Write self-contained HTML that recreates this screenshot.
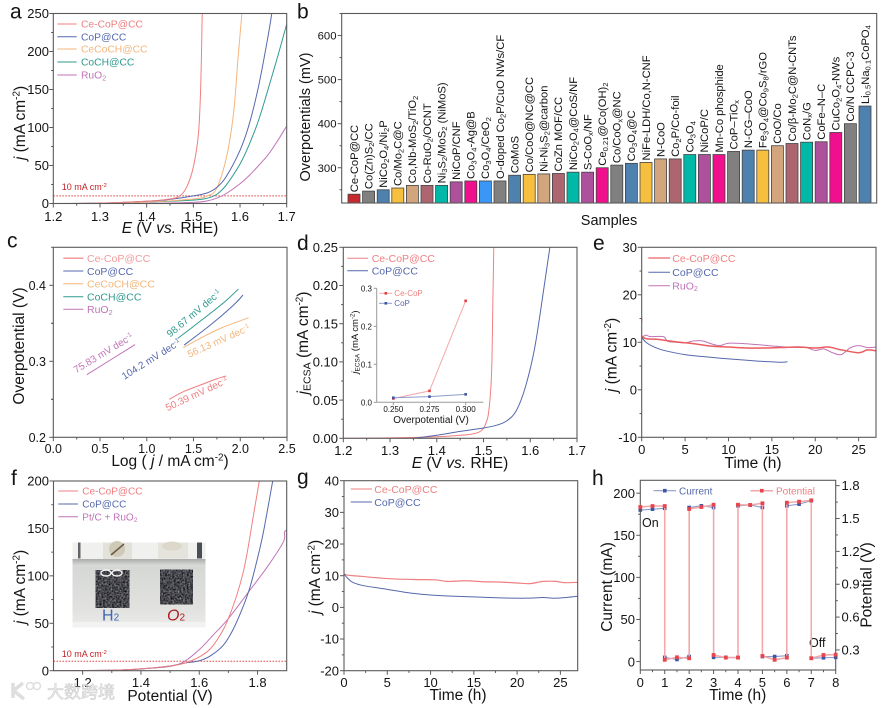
<!DOCTYPE html>
<html lang="en">
<head>
<meta charset="utf-8">
<title>Electrocatalysis composite figure</title>
<style>
html,body{margin:0;padding:0;background:#fff;width:886px;height:708px;overflow:hidden}
svg{display:block;filter:blur(0.3px)}
text{font-family:"Liberation Sans","Noto Sans CJK SC",sans-serif;fill:#141414}
</style>
</head>
<body>
<svg id="figure" xmlns="http://www.w3.org/2000/svg" width="886" height="708" viewBox="0 0 886 708">
<defs>
<filter id="cloth" x="0" y="0" width="100%" height="100%" color-interpolation-filters="sRGB">
<feTurbulence type="fractalNoise" baseFrequency="0.55" numOctaves="2" seed="4"/>
<feColorMatrix values="0.75 0 0 0 -0.1 0.75 0 0 0 -0.1 0.78 0 0 0 -0.09 0 0 0 0 1"/>
<feComposite in2="SourceGraphic" operator="in"/>
</filter>
<linearGradient id="glass" x1="0" y1="0" x2="0" y2="1">
<stop offset="0" stop-color="#e2e3e1"/><stop offset="0.3" stop-color="#d6d8d6"/><stop offset="0.8" stop-color="#e2e3e1"/><stop offset="1" stop-color="#ececea"/>
</linearGradient>
<linearGradient id="surface" x1="0" y1="0" x2="0" y2="1">
<stop offset="0" stop-color="#a9acab"/><stop offset="1" stop-color="#d6d8d6"/>
</linearGradient>
</defs>
<rect width="886" height="708" fill="#fff"/>
<g id="layer"></g>
<g id="photo-inset">
<rect x="72.5" y="542.5" width="133" height="85" fill="url(#glass)"/>
<rect x="72.5" y="542.5" width="133" height="17" fill="#f0f0ee"/>
<rect x="78" y="542.5" width="2.5" height="16" fill="#62656a"/>
<rect x="197" y="542.5" width="5" height="16" fill="#4c4f52"/>
<rect x="103" y="542.5" width="29" height="18" fill="#e2e1da"/>
<rect x="158" y="542.5" width="30" height="16" fill="#e4e3dc"/>
<circle cx="117" cy="549" r="8" fill="#cfcab8"/>
<line x1="111" y1="555" x2="124" y2="544" stroke="#6b5a40" stroke-width="1.5"/>
<ellipse cx="172" cy="546" rx="10" ry="4.5" fill="#dcd8ca"/>
<rect x="72.5" y="559" width="133" height="6" fill="url(#surface)"/>
<rect x="95.5" y="570" width="34" height="38" fill="#000" filter="url(#cloth)"/>
<rect x="160" y="569.5" width="33" height="35" fill="#000" filter="url(#cloth)"/>
<ellipse cx="106" cy="573" rx="5" ry="3" fill="none" stroke="#f2f2f2" stroke-width="1.4"/>
<ellipse cx="117" cy="573" rx="5" ry="3" fill="none" stroke="#f2f2f2" stroke-width="1.4"/>
<rect x="72.5" y="622" width="133" height="5.5" fill="#f2f2f0"/>
<text x="102" y="620.5" font-size="16" style="fill:#3d68b4">H<tspan font-size="10">2</tspan></text>
<text x="167" y="620.5" font-size="16" font-style="italic" style="fill:#a81c20">O<tspan font-size="10" font-style="normal">2</tspan></text>
</g>
<g id="watermark" opacity="0.85">
<path d="M13 683 L13 698 M13 691 L23 683 M14 691 L24 699" stroke="#d9d9d9" stroke-width="3.5" fill="none"/>
<circle cx="30" cy="686" r="3.5" fill="none" stroke="#d9d9d9" stroke-width="1.5"/>
<circle cx="37" cy="686" r="3.5" fill="none" stroke="#d9d9d9" stroke-width="1.5"/>
<text x="47" y="698" font-size="17" style="fill:#eeeeee;stroke:#c4c4c4;stroke-width:0.6">大数跨境</text>
</g>
</svg>
<script>
/* ---------- panel a data ---------- */
const aXTicks=[1.2,1.3,1.4,1.5,1.6,1.7];
const aYTicks=[0,50,100,150,200,250];
const aCeCoPx=[1.2,1.3,1.4,1.45,1.471,1.486,1.5,1.511,1.516,1.519];
const aCeCoPy=[0,0.5,3,6,10,22,48,92,158,250];
const aCoPx=[1.2,1.3,1.4,1.45,1.5,1.53,1.55,1.57,1.6,1.62,1.64,1.66,1.668];
const aCoPy=[0,0.5,3,5.5,10,14,21,35,70,105,155,220,250];
const aCeCoCHx=[1.2,1.3,1.4,1.5,1.53,1.55,1.571,1.586,1.596,1.604];
const aCeCoCHy=[0,0.3,2,6,10,20,61,118,193,250];
const aCoCHx=[1.2,1.3,1.4,1.5,1.53,1.55,1.57,1.6,1.62,1.64,1.66,1.68,1.7];
const aCoCHy=[0,0.3,2,4.5,7,12,24,52,78,110,150,192,236];
const aRuO2x=[1.2,1.4,1.5,1.53,1.55,1.57,1.6,1.62,1.64,1.66,1.68,1.7];
const aRuO2y=[0,0.3,1.5,3.5,7,13,26,37,50,64,82,102];
/* ---------- panel b data ---------- */
const bSamples=["Ce-CoP@CC","Co(Zn)S_{2}/CC","NiCo_{2}O_{4}/Ni_{2}P","Co/Mo_{2}C@C","Co,Nb-MoS_{2}/TiO_{2}","Co-RuO_{2}/OCNT","Ni_{3}S_{2}/MoS_{2} (NiMoS)","NiCoP/CNF","Co_{3}O_{4}-Ag@B","Co_{3}O_{4}/CeO_{2}","O-doped Co_{2}P/CuO NWs/CF","CoMoS","Co/CoO@NC@CC","Ni-Ni_{3}S_{2}@carbon","CoZn MOF/CC","NiCo_{2}O_{4}@CoS/NF","S-CoO_{x}/NF","Ce_{0.21}@Co(OH)_{2}","Co/CoO_{x}@NC","Co_{3}O_{4}@C","NiFe-LDH/Co,N-CNF","N-CoO","Co_{2}P/Co-foil","Co_{3}O_{4}","NiCoP/C","Mn-Co phosphide","CoP–TiO_{x}","N-CG–CoO","Fe_{3}O_{4}@Co_{9}S_{8}/rGO","CoO/Co","Co/β-Mo_{2}C@N-CNTs","CoN_{x}/G","CoFe–N–C","CuCo_{2}O_{4}-NWs","Co/N CCPC-3","Li_{0.5}Na_{0.1}CoPO_{4}"];
const bOverpotentials=[240,247,250,254,260,260,260,268,270,270,270,283,285,286,287,290,290,300,306,310,312,320,320,330,330,330,337,340,340,350,355,358,359,380,400,440];
const bYTicks=[300,400,500,600];
/* ---------- panel c data ---------- */
const cXTicks=[0,0.5,1,1.5,2,2.5];
const cYTicks=[0.2,0.3,0.4];
const cCeCoPx=[1.24,1.4,1.6,1.75,1.85];
const cCeCoPy=[0.25,0.2605,0.27,0.277,0.2807];
const cCoPx=[1.4,1.6,1.8,1.95,2.03];
const cCoPy=[0.3214,0.34,0.36,0.3765,0.3873];
const cCeCoCHx=[1.39,1.6,1.8,2.09];
const cCeCoCHy=[0.318,0.332,0.344,0.3574];
const cCoCHx=[1.33,1.5,1.7,1.85,1.98];
const cCoCHy=[0.33,0.346,0.365,0.38,0.395];
const cRuO2x=[0.358,0.875];
const cRuO2y=[0.2824,0.322];
/* ---------- panel d data ---------- */
const dXTicks=[1.2,1.3,1.4,1.5,1.6,1.7];
const dYTicks=[0,0.05,0.1,0.15,0.2,0.25];
const dCeCoPx=[1.2,1.3,1.4,1.45,1.47,1.49,1.5,1.505,1.51,1.515,1.518,1.52,1.522];
const dCeCoPy=[0,0.0005,0.002,0.004,0.005,0.008,0.013,0.02,0.03,0.06,0.1,0.18,0.25];
const dCoPx=[1.35,1.4,1.45,1.5,1.53,1.55,1.57,1.59,1.61,1.63,1.642];
const dCoPy=[0,0.004,0.009,0.0135,0.0175,0.023,0.036,0.068,0.12,0.2,0.25];
const insetOverpotential=[0.25,0.275,0.3];
const insetCeCoP=[0.01,0.03,0.267];
const insetCoP=[0.012,0.015,0.021];
const insetYTicks=[0,0.1,0.2,0.3];
/* ---------- panel e data ---------- */
const eXTicks=[0,5,10,15,20,25];
const eYTicks=[-10,0,10,20,30];
const eCeCoPt=[0,0.05,2,4,6,8,10,12,14,16,18,20,21.5,23,25,26,27];
const eCeCoPj=[15,11.2,10.6,10.1,9.7,9.2,9,8.8,8.8,8.9,9,8.8,9,8.4,7.8,8.4,8.2];
const eRuO2t=[0,0.5,1,2.5,3,4,5,6,7,8,9,10,12,14,16,18,19,20,21,22,23,24,25,26,27];
const eRuO2j=[11,11.5,11.2,11.2,10.2,10,9.9,10.3,10.3,9.7,9.3,9.8,9.7,9.4,9.1,8.9,8.9,8.3,8.6,7.8,7.4,8.8,9.3,8.9,9];
const eCoPt=[0,0.5,1,2,3,5,7,10,13,16,16.8];
const eCoPj=[11,10,9.4,8.6,8.1,7.4,7,6.5,6.1,5.8,5.9];
/* ---------- panel f data ---------- */
const fXTicks=[1.2,1.4,1.6,1.8];
const fYTicks=[0,50,100,150,200];
const fCeCoPx=[1.1,1.3,1.4,1.5,1.55,1.603,1.649,1.7,1.751,1.786,1.806];
const fCeCoPy=[0,0.5,2,5,8,15,27,55,104,164,200];
const fCoPx=[1.1,1.3,1.4,1.5,1.55,1.6,1.64,1.683,1.717,1.751,1.774,1.797,1.82,1.852];
const fCoPy=[0,0.5,1.8,5,8,10.5,16,27,44,68,88,115,146,200];
const fPtx=[1.1,1.3,1.4,1.5,1.55,1.603,1.649,1.7,1.774,1.837,1.889,1.892,1.9];
const fPty=[0,0.5,2,4.5,10,23,38,55,85,111,136,146,148];
/* ---------- panel g data ---------- */
const gXTicks=[0,5,10,15,20,25];
const gYTicks=[-20,-10,0,10,20,30,40];
const gCeCoPt=[0,0.05,2,5,8,10.5,12,14,16,18,20,21.5,23,24.5,25.5,27];
const gCeCoPj=[13,10.5,9.8,9.1,8.8,8.7,8.2,8.4,8.1,8,7.7,7.5,8.2,8.2,7.8,7.9];
const gCoPt=[0,0.5,1,2,3.5,5,6.5,8,10,12,15,18,21,23,24.5,27];
const gCoPj=[10.5,9,7.9,7,6.3,5.7,5,4.4,3.9,3.6,3.3,3,2.9,3.1,2.9,3.5];
/* ---------- panel h data ---------- */
const hTime=[0,0.5,1,1,1.5,2,2,2.5,3,3,3.5,4,4,4.5,5,5,5.5,6,6,6.5,7,7,7.5,8];
const hCurrent=[180,181,182,5,2.5,6,183,185,183,5,5,5,185,186,183,6,6,7,185,187,191,4,4.5,5];
const hPotential=[1.605,1.614,1.614,0.21,0.233,0.224,1.587,1.605,1.626,0.254,0.23,0.23,1.626,1.623,1.639,0.245,0.21,0.23,1.645,1.654,1.666,0.224,0.254,0.257];
const hXTicks=[0,1,2,3,4,5,6,7,8];
const hYTicks=[0,50,100,150,200];
const hRightTicks=[0.3,0.6,0.9,1.2,1.5,1.8];

/* ---------- style constants ---------- */
const RED='#ef7f80',BLUE='#5568ad',ORANGE='#f4b67c',TEAL='#2f9a8e',PURPLE='#c074b8',AXIS='#5a5a5a';
const NS='http://www.w3.org/2000/svg';
const layer=document.getElementById('layer');

function make(tag,attrs,parent,name,interactable){
  const e=document.createElementNS(NS,tag);
  for(const k in attrs){e.setAttribute(k,attrs[k]);}
  
  
  (parent||layer).appendChild(e);
  return e;
}
/* markup: _{sub}  ^{sup}  *italic* */
function label(parent,name,str,x,y,size,opts){
  opts=opts||{};
  const attrs={x:x,y:y,'font-size':size};
  if(opts.anchor){attrs['text-anchor']=opts.anchor;}
  if(opts.rotate!==undefined){attrs.transform='rotate('+opts.rotate+' '+x+' '+y+')';}
  const t=make('text',attrs,parent,name,false);
  if(opts.fill){t.style.fill=opts.fill;}
  const parts=str.split(/(_\{[^}]*\}|\^\{[^}]*\}|\*[^*]*\*)/).filter(function(s){return s!=='';});
  let offset=0;
  parts.forEach(function(p){
    const s=document.createElementNS(NS,'tspan');
    let target=0,txt=p;
    if(p[0]==='_'&&p[1]==='{'){target=size*0.16;txt=p.slice(2,-1);s.setAttribute('font-size',size*0.68);}
    else if(p[0]==='^'&&p[1]==='{'){target=-size*0.36;txt=p.slice(2,-1);s.setAttribute('font-size',size*0.64);}
    else if(p[0]==='*'){txt=p.slice(1,-1);s.setAttribute('font-style','italic');}
    s.setAttribute('dy',target-offset);
    offset=target;
    s.textContent=txt;
    t.appendChild(s);
  });
  return t;
}
function panel(name,box,xd,yd){
  const g=make('g',{},layer,name,false);
  const p={name:name,box:box,g:g};
  p.x=function(v){return box.l+(v-xd[0])/(xd[1]-xd[0])*(box.r-box.l);};
  p.y=function(v){return box.b-(v-yd[0])/(yd[1]-yd[0])*(box.b-box.t);};
  const clip=make('clipPath',{id:'clip-'+name},g,name+'-clip',false);
  make('rect',{x:box.l,y:box.t,width:box.r-box.l,height:box.b-box.t},clip,name+'-clip-rect',false);
  return p;
}
function frame(p){
  const b=p.box;
  make('rect',{x:b.l,y:b.t,width:b.r-b.l,height:b.b-b.t,fill:'none',stroke:AXIS,'stroke-width':1.1},p.g,p.name+'-frame',false);
}
function midpoints(t){const m=[];for(let i=0;i<t.length-1;i++){m.push((t[i]+t[i+1])/2);}return m;}
function tick(p,name,x1,y1,x2,y2,color){
  make('line',{x1:x1,y1:y1,x2:x2,y2:y2,stroke:color||AXIS,'stroke-width':1},p.g,name,false);
}
function xAxis(p,ticks,dec,size,baseline,color){
  const b=p.box;
  ticks.forEach(function(v){
    tick(p,p.name+'-x-tick',p.x(v),b.b,p.x(v),b.b+4,color);
    label(p.g,p.name+'-x-tick-label',v.toFixed(dec),p.x(v),baseline,size,{anchor:'middle'});
  });
  midpoints(ticks).forEach(function(v){tick(p,p.name+'-x-minor-tick',p.x(v),b.b,p.x(v),b.b+2.2,color);});
}
function yAxis(p,ticks,dec,size,rightEdge,extra,color){
  const b=p.box;
  ticks.forEach(function(v){
    tick(p,p.name+'-y-tick',b.l,p.y(v),b.l-4,p.y(v),color);
    label(p.g,p.name+'-y-tick-label',v.toFixed(dec),rightEdge,p.y(v)+size*0.36,size,{anchor:'end'});
  });
  midpoints(ticks).concat(extra||[]).forEach(function(v){tick(p,p.name+'-y-minor-tick',b.l,p.y(v),b.l-2.2,p.y(v),color);});
}
function smoothPath(xs,ys,p){
  const pts=xs.map(function(v,i){return [p.x(v),p.y(ys[i])];});
  let d='M'+pts[0][0].toFixed(2)+' '+pts[0][1].toFixed(2);
  for(let i=0;i<pts.length-1;i++){
    const a=pts[Math.max(i-1,0)],b=pts[i],c=pts[i+1],e=pts[Math.min(i+2,pts.length-1)];
    d+=' C'+(b[0]+(c[0]-a[0])/6).toFixed(2)+' '+(b[1]+(c[1]-a[1])/6).toFixed(2)+' '+(c[0]-(e[0]-b[0])/6).toFixed(2)+' '+(c[1]-(e[1]-b[1])/6).toFixed(2)+' '+c[0].toFixed(2)+' '+c[1].toFixed(2);
  }
  return d;
}
function curve(p,name,xs,ys,color,width){
  return make('path',{d:smoothPath(xs,ys,p),fill:'none',stroke:color,'stroke-width':width||1,'clip-path':'url(#clip-'+p.name+')'},p.g,name,false);
}
function polyline(p,name,xs,ys,color,width){
  const pts=xs.map(function(v,i){return p.x(v).toFixed(2)+','+p.y(ys[i]).toFixed(2);}).join(' ');
  return make('polyline',{points:pts,fill:'none',stroke:color,'stroke-width':width||1},p.g,name,false);
}
function squares(p,name,xs,ys,color,s){
  xs.forEach(function(v,i){
    make('rect',{x:p.x(v)-s/2,y:p.y(ys[i])-s/2,width:s,height:s,fill:color},p.g,name,false);
  });
}
function legend(p,entries,x1,x2,xt,ys,size,width){
  entries.forEach(function(en,i){
    make('line',{x1:x1,y1:ys[i],x2:x2,y2:ys[i],stroke:en[1],'stroke-width':(en[2]||width||1)},p.g,p.name+'-legend-line',false);
    label(p.g,p.name+'-legend-entry',en[0],xt,ys[i]+size*0.36,size,{fill:en[1]});
  });
}
function refLine(p,x0,x1,y,textX,textY){
  make('line',{x1:p.x(x0),y1:p.y(y),x2:p.x(x1),y2:p.y(y),stroke:'#e04848','stroke-width':1,'stroke-dasharray':'1.6 1.4'},p.g,p.name+'-10ma-reference-line',false);
  label(p.g,p.name+'-10ma-label','10 mA cm^{-2}',textX,textY,9,{fill:'#c42024'});
}
function panelLetter(ch,x,y){ label(layer,'panel-letter-'+ch,ch,x,y,21); }

/* ---------- a ---------- */
(function(){
  panelLetter('a',10,18.5);
  const p=panel('panel-a',{l:53.3,r:286.7,t:13.5,b:203.5},[1.2,1.7],[0,250]);
  refLine(p,1.2,1.7,10,61.7,190);
  curve(p,'ruo2-curve',aRuO2x,aRuO2y,PURPLE);
  curve(p,'cocch-curve',aCoCHx,aCoCHy,TEAL);
  curve(p,'cecoch-curve',aCeCoCHx,aCeCoCHy,ORANGE);
  curve(p,'cop-curve',aCoPx,aCoPy,BLUE);
  curve(p,'ce-cop-curve',aCeCoPx,aCeCoPy,RED);
  frame(p);
  xAxis(p,aXTicks,1,13,221);
  yAxis(p,aYTicks,0,13,49);
  legend(p,[['Ce-CoP@CC',RED],['CoP@CC',BLUE],['CeCoCH@CC',ORANGE],['CoCH@CC',TEAL],['RuO_{2}',PURPLE]],57.3,76.7,81,[24,36.7,49,62,75],10.3);
  label(p.g,'panel-a-y-title','*j* (mA cm^{-2})',25,123,15.5,{anchor:'middle',rotate:-90});
  label(p.g,'panel-a-x-title','*E* (V *vs.* RHE)',170,233,15.5,{anchor:'middle'});
})();
/* ---------- b ---------- */
(function(){
  panelLetter('b',297,18.5);
  const RED_BAR='#c62a2c',BRIGHT='#3a97f5';
  const cycle=['#808080','#4e81ae','#f7bf3e','#d3a57c','#ad6670','#00b8a8','#ae519c','#f00f8c'];
  function barColor(i){ if(i===0){return RED_BAR;} if(i===9){return BRIGHT;} return cycle[(i<9?i-1:i-2)%8]; }
  const p=panel('panel-b',{l:341.7,r:876.7,t:13.5,b:203},[0,1],[220,650]);
  const step=14.6,first=354;
  function bandX(i){return first+i*step;}
  bOverpotentials.forEach(function(v,i){
    make('rect',{x:bandX(i)-6,y:p.y(v),width:12,height:p.box.b-p.y(v),fill:barColor(i),stroke:'#444','stroke-width':0.8},p.g,'bar-'+(i+1),false);
    label(p.g,'bar-label-'+(i+1),bSamples[i],bandX(i)+3.8,p.y(v)-2,11.2,{rotate:-90});
  });
  frame(p);
  yAxis(p,bYTicks,0,11.3,336.5,[250,650]);
  label(p.g,'panel-b-y-title','Overpotentials (mV)',310,117,14.5,{anchor:'middle',rotate:-90});
  label(p.g,'panel-b-x-title','Samples',609,225,14.5,{anchor:'middle'});
})();
/* ---------- c ---------- */
(function(){
  panelLetter('c',7,247.5);
  const p=panel('panel-c',{l:53.3,r:287,t:247.3,b:437.3},[0,2.5],[0.2,0.45]);
  curve(p,'ce-cop-tafel',cCeCoPx,cCeCoPy,RED,1);
  curve(p,'cop-tafel',cCoPx,cCoPy,BLUE);
  curve(p,'cecoch-tafel',cCeCoCHx,cCeCoCHy,ORANGE);
  curve(p,'coch-tafel',cCoCHx,cCoCHy,TEAL);
  curve(p,'ruo2-tafel',cRuO2x,cRuO2y,PURPLE);
  frame(p);
  xAxis(p,cXTicks,1,12.5,453);
  yAxis(p,cYTicks,1,12.5,46,[0.25,0.35,0.45]);
  legend(p,[['Ce-CoP@CC','#f29a9a',1.5],['CoP@CC',BLUE],['CeCoCH@CC',ORANGE],['CoCH@CC',TEAL],['RuO_{2}',PURPLE]],63.3,83.3,87,[258.3,271,283.7,296.7,309.3],10.5);
  label(p.g,'tafel-slope-ce-cop','50.39 mV dec^{-1}',198,397,10,{anchor:'middle',rotate:-25,fill:RED});
  label(p.g,'tafel-slope-cecoch','56.13 mV dec^{-1}',220,344,10,{anchor:'middle',rotate:-24,fill:ORANGE});
  label(p.g,'tafel-slope-cop','104.2 mV dec^{-1}',153,362,10,{anchor:'middle',rotate:-32,fill:BLUE});
  label(p.g,'tafel-slope-coch','98.67 mV dec^{-1}',196,316,10,{anchor:'middle',rotate:-40,fill:TEAL});
  label(p.g,'tafel-slope-ruo2','75.83 mV dec^{-1}',105,356,10,{anchor:'middle',rotate:-31,fill:PURPLE});
  label(p.g,'panel-c-y-title','Overpotential (V)',24,346,15.5,{anchor:'middle',rotate:-90});
  label(p.g,'panel-c-x-title','Log ( *j* / mA cm^{-2})',170,466,15.5,{anchor:'middle'});
})();
/* ---------- d ---------- */
(function(){
  panelLetter('d',297,250);
  const p=panel('panel-d',{l:343.3,r:577,t:247.3,b:438.3},[1.2,1.7],[0,0.25]);
  curve(p,'ce-cop-ecsa-curve',dCeCoPx,dCeCoPy,RED);
  curve(p,'cop-ecsa-curve',dCoPx,dCoPy,BLUE);
  frame(p);
  xAxis(p,dXTicks,1,13,455);
  yAxis(p,dYTicks,2,13,338);
  legend(p,[['Ce-CoP@CC',RED],['CoP@CC',BLUE]],347.3,368,371.7,[258.3,270.7],10.5);
  label(p.g,'panel-d-y-title','*j*_{ECSA} (mA cm^{-2})',308,343,15.5,{anchor:'middle',rotate:-90});
  label(p.g,'panel-d-x-title','*E* (V *vs.* RHE)',460,468,15.5,{anchor:'middle'});

  const q=panel('panel-d-inset',{l:376.7,r:483.3,t:288.3,b:402.3},[0.2385,0.3122],[0,0.3]);
  const G='#9a9a9a';
  make('line',{x1:q.box.l,y1:q.box.t,x2:q.box.l,y2:q.box.b,stroke:G,'stroke-width':1},q.g,'inset-y-axis',false);
  make('line',{x1:q.box.l,y1:q.box.b,x2:q.box.r,y2:q.box.b,stroke:G,'stroke-width':1},q.g,'inset-x-axis',false);
  insetOverpotential.forEach(function(v){
    tick(q,'inset-x-tick',q.x(v),q.box.b,q.x(v),q.box.b+3,G);
    label(q.g,'inset-x-tick-label',v.toFixed(3),q.x(v),412,8,{anchor:'middle'});
  });
  insetYTicks.forEach(function(v){
    tick(q,'inset-y-tick',q.box.l,q.y(v),q.box.l-3,q.y(v),G);
    label(q.g,'inset-y-tick-label',v.toFixed(1),372,q.y(v)+3,8,{anchor:'end'});
  });
  polyline(q,'inset-ce-cop-line',insetOverpotential,insetCeCoP,'#f4a9a9',1);
  polyline(q,'inset-cop-line',insetOverpotential,insetCoP,'#8d9ccb',1);
  squares(q,'inset-ce-cop-marker',insetOverpotential,insetCeCoP,'#e23c3c',2.6);
  squares(q,'inset-cop-marker',insetOverpotential,insetCoP,'#3d56a6',2.6);
  make('line',{x1:379,y1:293.3,x2:392,y2:293.3,stroke:'#f4a9a9','stroke-width':1},q.g,'inset-legend-line',false);
  make('rect',{x:384.5,y:292,width:2.6,height:2.6,fill:'#e23c3c'},q.g,'inset-legend-marker',false);
  label(q.g,'inset-legend-entry','Ce-CoP',394.3,296.2,8,{fill:RED});
  make('line',{x1:379,y1:303.3,x2:392,y2:303.3,stroke:'#8d9ccb','stroke-width':1},q.g,'inset-legend-line',false);
  make('rect',{x:384.5,y:302,width:2.6,height:2.6,fill:'#3d56a6'},q.g,'inset-legend-marker',false);
  label(q.g,'inset-legend-entry','CoP',394.3,306.2,8,{fill:BLUE});
  label(q.g,'inset-y-title','*j*_{ECSA} (mA cm^{-2})',358,342,9.5,{anchor:'middle',rotate:-90});
  label(q.g,'inset-x-title','Overpotential (V)',431,423,10,{anchor:'middle'});
})();
/* ---------- e ---------- */
(function(){
  panelLetter('e',593,250);
  const p=panel('panel-e',{l:641.7,r:876,t:247.3,b:437.3},[0,27],[-10,30]);
  curve(p,'ruo2-stability',eRuO2t,eRuO2j,PURPLE);
  curve(p,'cop-stability',eCoPt,eCoPj,BLUE);
  curve(p,'ce-cop-stability',eCeCoPt,eCeCoPj,'#ea5d60',1.5);
  frame(p);
  xAxis(p,eXTicks,0,13,454);
  yAxis(p,eYTicks,0,13,637);
  legend(p,[['Ce-CoP@CC',RED,1.6],['CoP@CC',BLUE],['RuO_{2}',PURPLE]],648.3,670,672.3,[258,272.3,285.7],10.5);
  label(p.g,'panel-e-y-title','*j* (mA cm^{-2})',616.5,355,15.5,{anchor:'middle',rotate:-90});
  label(p.g,'panel-e-x-title','Time (h)',753,468,15.5,{anchor:'middle'});
})();
/* ---------- f ---------- */
(function(){
  panelLetter('f',11,485);
  const p=panel('panel-f',{l:53.5,r:286.7,t:481,b:670.7},[1.1,1.9],[0,200]);
  refLine(p,1.1,1.9,10,61.7,657);
  curve(p,'pt-c-ruo2-curve',fPtx,fPty,PURPLE);
  curve(p,'cop-overall-curve',fCoPx,fCoPy,BLUE);
  curve(p,'ce-cop-overall-curve',fCeCoPx,fCeCoPy,RED);
  frame(p);
  xAxis(p,fXTicks,1,13,687);
  yAxis(p,fYTicks,0,13,49);
  legend(p,[['Ce-CoP@CC',RED],['CoP@CC',BLUE],['Pt/C + RuO_{2}',PURPLE]],58.3,78,82.3,[491,504,516.7],10);
  label(p.g,'panel-f-y-title','*j* (mA cm^{-2})',25,587,15.5,{anchor:'middle',rotate:-90});
  label(p.g,'panel-f-x-title','Potential (V)',170,701,15.5,{anchor:'middle'});
})();
/* ---------- g ---------- */
(function(){
  panelLetter('g',297,484);
  const p=panel('panel-g',{l:344,r:577.7,t:480.7,b:670.7},[0,27],[-20,40]);
  curve(p,'ce-cop-overall-stability',gCeCoPt,gCeCoPj,RED,1.2);
  curve(p,'cop-overall-stability',gCoPt,gCoPj,BLUE);
  frame(p);
  xAxis(p,gXTicks,0,13,687);
  yAxis(p,gYTicks,0,13,339);
  legend(p,[['Ce-CoP@CC',RED],['CoP@CC',BLUE]],350.7,372,374.3,[489,502],10.5);
  label(p.g,'panel-g-y-title','*j* (mA cm^{-2})',320,577,15.5,{anchor:'middle',rotate:-90});
  label(p.g,'panel-g-x-title','Time (h)',458,700,15.5,{anchor:'middle'});
})();
/* ---------- h ---------- */
(function(){
  panelLetter('h',592,485);
  const box={l:640.3,r:835.7,t:480.3,b:670};
  const p=panel('panel-h',box,[0,8],[-10,215.3]);
  const r=panel('panel-h-right',box,[0,8],[0.117,1.849]);
  polyline(p,'current-line',hTime,hCurrent,'#8d9ccb',1.1);
  polyline(r,'potential-line',hTime,hPotential,'#f4a6a8',1.5);
  squares(p,'current-marker',hTime,hCurrent,'#3d56a6',3.6);
  squares(r,'potential-marker',hTime,hPotential,'#e8444c',3.8);
  frame(p);
  xAxis(p,hXTicks,0,13,687);
  yAxis(p,hYTicks,0,13,635);
  hRightTicks.forEach(function(v){
    tick(r,'panel-h-right-tick',box.r,r.y(v),box.r+4,r.y(v));
    label(r.g,'panel-h-right-tick-label',v.toFixed(1),841.5,r.y(v)+4.5,13);
  });
  midpoints(hRightTicks).forEach(function(v){tick(r,'panel-h-right-minor-tick',box.r,r.y(v),box.r+2.2,r.y(v));});
  make('line',{x1:653.5,y1:490.7,x2:676,y2:490.7,stroke:'#8d9ccb','stroke-width':1.1},p.g,'current-legend-line',false);
  make('rect',{x:663,y:488.9,width:3.6,height:3.6,fill:'#3d56a6'},p.g,'current-legend-marker',false);
  label(p.g,'current-legend-entry','Current',679,494.3,10,{fill:BLUE});
  make('line',{x1:750.5,y1:490.7,x2:773,y2:490.7,stroke:'#f4a6a8','stroke-width':1.5},p.g,'potential-legend-line',false);
  make('rect',{x:760,y:488.9,width:3.6,height:3.6,fill:'#e8444c'},p.g,'potential-legend-marker',false);
  label(p.g,'potential-legend-entry','Potential',776,494.3,10,{fill:RED});
  label(p.g,'on-annotation','On',642,527,12.5);
  label(p.g,'off-annotation','Off',809,647,12.5);
  label(p.g,'panel-h-y-title','Current (mA)',612,587,15.5,{anchor:'middle',rotate:-90});
  label(p.g,'panel-h-right-y-title','Potential (V)',871.5,585,15.5,{anchor:'middle',rotate:-90});
  label(p.g,'panel-h-x-title','Time (h)',737.7,700,15.5,{anchor:'middle'});
})();
</script>
</body>
</html>
